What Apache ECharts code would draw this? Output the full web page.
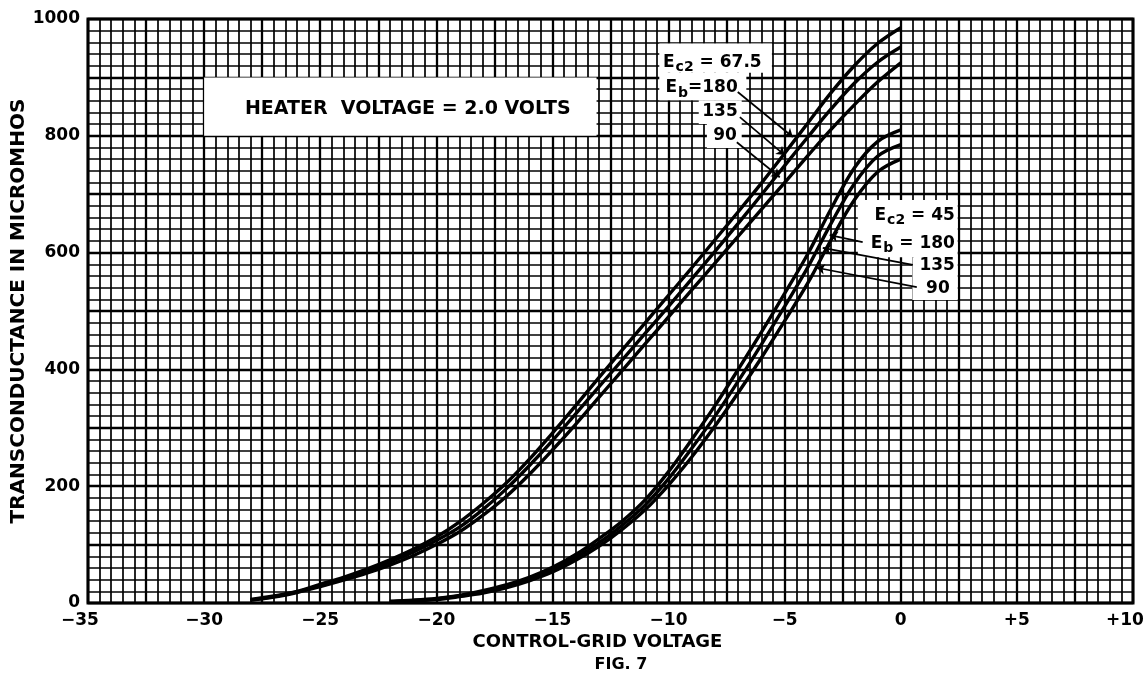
<!DOCTYPE html>
<html><head><meta charset="utf-8">
<script src="https://cdn.jsdelivr.net/npm/echarts@6/dist/echarts.min.js"></script>
<style>html,body{margin:0;padding:0;background:#fff}#c{width:1148px;height:679px}</style>
</head><body><div id="c"></div>
<script>
// ---- data ----
const xTickValues = [-35, -30, -25, -20, -15, -10, -5, 0, 5, 10];
const xTickLabels = ['\u221235', '\u221230', '\u221225', '\u221220', '\u221215', '\u221210', '\u22125', '0', '+5', '+10'];
const yTickValues = [0, 200, 400, 600, 800, 1000];
const yTickLabels = ['0', '200', '400', '600', '800', '1000'];

// Ec2 = 67.5 family (control-grid volts)
const gridV675 = [-28,-27,-26,-25,-24,-23,-22,-21,-20,-19,-18,-17,-16,-15,-14,-13,-12,-11,-10,-9,-8,-7,-6,-5,-4,-3,-2,-1,0];
const gm675_Eb180 = [6,12,20,32,44,58,74,92,113,139,170,205,246,291,338,386,433,480,527,574,622,670,719,770,822,874,920,958,985];
const gm675_Eb135 = [5,11,19,30,42,55,70,87,107,130,160,195,235,278,324,370,416,462,508,555,602,650,699,749,798,846,890,926,952];
const gm675_Eb90  = [5,10,18,28,39,51,65,81,100,122,150,182,220,262,306,352,398,444,490,536,582,628,674,720,766,811,853,892,925];

// Ec2 = 45 family
const gridV45 = [-22,-21,-20,-19,-18,-17,-16,-15,-14,-13,-12,-11,-10,-9,-8,-7,-6,-5,-4,-3,-2,-1,0];
const gm45_Eb180 = [3,5,8,13,21,31,44,61,83,110,140,177,225,280,338,400,464,530,598,675,745,790,810];
const gm45_Eb135 = [2,4,7,12,19,29,41,57,78,103,133,168,213,265,320,380,443,508,575,650,718,765,785];
const gm45_Eb90  = [2,4,6,11,17,26,38,53,73,97,126,160,202,250,303,360,420,483,548,622,690,738,760];

// annotation texts
const headerText = 'HEATER  VOLTAGE = 2.0 VOLTS';
const xTitle = 'CONTROL-GRID VOLTAGE';
const yTitle = 'TRANSCONDUCTANCE IN MICROMHOS';
const figText = 'FIG. 7';

// ---- build ----
const F = 'DejaVu Sans';
const pairs = (xs, ys) => xs.map((x, i) => [x, ys[i]]);
const tickMap = {};
xTickValues.forEach((v, i) => tickMap[v] = xTickLabels[i]);
const yMap = {};
yTickValues.forEach((v, i) => yMap[v] = yTickLabels[i]);
const xMin = xTickValues[0], xMax = xTickValues[xTickValues.length - 1];

const curveStyle = { color: '#000', width: 3.4 };
function curve(name, xs, ys, extra) {
  return Object.assign({
    name, type: 'line', data: pairs(xs, ys), smooth: 0.35, symbol: 'none',
    lineStyle: curveStyle, itemStyle: { color: '#000' }, silent: true, z: 3
  }, extra || {});
}

// leader lines (data coordinates)
const leaders = [
  [[-7.02, 875], [-4.65, 798]],
  [[-6.93, 832], [-5.0, 767]],
  [[-7.06, 789], [-5.21, 729]],
  [[-1.64, 618], [-3.06, 630]],
  [[0.52, 579], [-3.36, 608]],
  [[0.69, 541], [-3.62, 574]]
];

const lblStyle = { fontFamily: F, fontWeight: 'bold', fontSize: 17, color: '#000' };
const chart = echarts.init(document.getElementById('c'));
const option = {
  animation: false,
  backgroundColor: '#fff',
  grid: {
    left: 88, right: 15, top: 19, bottom: 76, show: true,
    borderColor: '#000', borderWidth: 3, backgroundColor: 'transparent',
    containLabel: false, outerBoundsMode: 'none'
  },
  xAxis: [
    {
      type: 'value', min: xMin, max: xMax, interval: 5,
      axisLine: { show: false }, axisTick: { show: false }, splitLine: { show: false },
      axisLabel: Object.assign({}, lblStyle, {
        margin: 9,
        formatter: v => {
          const t = tickMap[v] ?? '';
          return (v === xMin || v === xMax) ? '{e|' + t + '}' : t;
        },
        rich: { e: Object.assign({}, lblStyle, { padding: [0, 16, 0, 0] }) }
      }),
      name: xTitle, nameLocation: 'middle', nameGap: 30, nameMoveOverlap: false,
      nameTextStyle: { fontFamily: F, fontWeight: 'bold', fontSize: 18, color: '#000', padding: [0, 26, 0, 0] }
    },
    {
      type: 'value', min: xMin, max: xMax, interval: 2.5, position: 'top',
      axisLine: { show: false }, axisTick: { show: false }, axisLabel: { show: false },
      splitLine: { show: true, lineStyle: { color: '#000', width: 2.3 } },
      minorTick: { show: false, splitNumber: 5 },
      minorSplitLine: { show: true, lineStyle: { color: '#000', width: 1.7 } }
    }
  ],
  yAxis: [
    {
      type: 'value', min: 0, max: 1000, interval: 200,
      axisLine: { show: false }, axisTick: { show: false }, splitLine: { show: false },
      axisLabel: Object.assign({}, lblStyle, { formatter: v => yMap[v] ?? '', margin: 8 }),
      name: yTitle, nameLocation: 'middle', nameGap: 59, nameRotate: 90, nameMoveOverlap: false,
      nameTextStyle: { fontFamily: F, fontWeight: 'bold', fontSize: 20, color: '#000' }
    },
    {
      type: 'value', min: 0, max: 1000, interval: 100, position: 'right',
      axisLine: { show: false }, axisTick: { show: false }, axisLabel: { show: false },
      splitLine: { show: true, lineStyle: { color: '#000', width: 2.3 } },
      minorTick: { show: false, splitNumber: 5 },
      minorSplitLine: { show: true, lineStyle: { color: '#000', width: 1.7 } }
    }
  ],
  series: [
    curve('Ec2 67.5, Eb 180', gridV675, gm675_Eb180, {
      markLine: {
        silent: true, symbol: ['none', 'arrow'], symbolSize: 8, animation: false,
        label: { show: false },
        lineStyle: { color: '#000', width: 1.7, type: 'solid' },
        emphasis: { disabled: true },
        data: leaders.map(l => [{ coord: l[0] }, { coord: l[1] }])
      }
    }),
    curve('Ec2 67.5, Eb 135', gridV675, gm675_Eb135),
    curve('Ec2 67.5, Eb 90', gridV675, gm675_Eb90),
    curve('Ec2 45, Eb 180', gridV45, gm45_Eb180),
    curve('Ec2 45, Eb 135', gridV45, gm45_Eb135),
    curve('Ec2 45, Eb 90', gridV45, gm45_Eb90)
  ]
};
chart.setOption(option);

// ---- annotations anchored in data coordinates ----
const P = p => chart.convertToPixel({ seriesIndex: 0 }, p);
function box(x1, y1, x2, y2) {
  const a = P([x1, y2]), b = P([x2, y1]);
  return { type: 'rect', z: 1, shape: { x: a[0], y: a[1], width: b[0] - a[0], height: b[1] - a[1] }, style: { fill: '#fff' }, silent: true };
}
const base = { fontFamily: F, fontWeight: 'bold', fontSize: 17, fill: '#000' };
const rich = {
  e: { fontFamily: F, fontWeight: 'bold', fontSize: 17, fill: '#000' },
  s: { fontFamily: F, fontWeight: 'bold', fontSize: 14, fill: '#000', padding: [10, 0, 0, 1] },
  n: { fontFamily: F, fontWeight: 'bold', fontSize: 17, fill: '#000' }
};
function label(x, y, text, align, useRich, size) {
  const p = P([x, y]);
  const style = Object.assign({}, base, { text, x: p[0], y: p[1], align: align || 'right', verticalAlign: 'middle' });
  if (size) style.fontSize = size;
  if (useRich) style.rich = rich;
  return { type: 'text', z: 10, style, silent: true };
}

const graphics = [
  box(-30, 800, -13.1, 900),
  box(-10.4, 908, -5.55, 958),
  box(-10.4, 861, -6.65, 908),
  box(-8.7, 820, -6.85, 861),
  box(-8.35, 779, -6.85, 820),
  box(-1.85, 592, 2.45, 690),
  box(0.5, 519, 2.45, 592),
  label(-21.23, 846, headerText, 'center', false, 19),
  label(-5.99, 926, '{e|E}{s|c2}{n| = 67.5}', 'right', true),
  label(-7.02, 882, '{e|E}{s|b}{n|=180}', 'right', true),
  label(-7.02, 841, '135', 'right'),
  label(-7.06, 801, '90', 'right'),
  label(2.33, 663, '{e|E}{s|c2}{n| = 45}', 'right', true),
  label(2.33, 616, '{e|E}{s|b}{n| = 180}', 'right', true),
  label(2.33, 577, '135', 'right'),
  label(2.11, 539, '90', 'right'),
  { type: 'text', z: 10, silent: true, style: Object.assign({}, base, { text: figText, x: 621, y: 665, align: 'center', verticalAlign: 'middle', fontSize: 16 }) }
];
chart.setOption({ graphic: graphics });
</script>
</body></html>
